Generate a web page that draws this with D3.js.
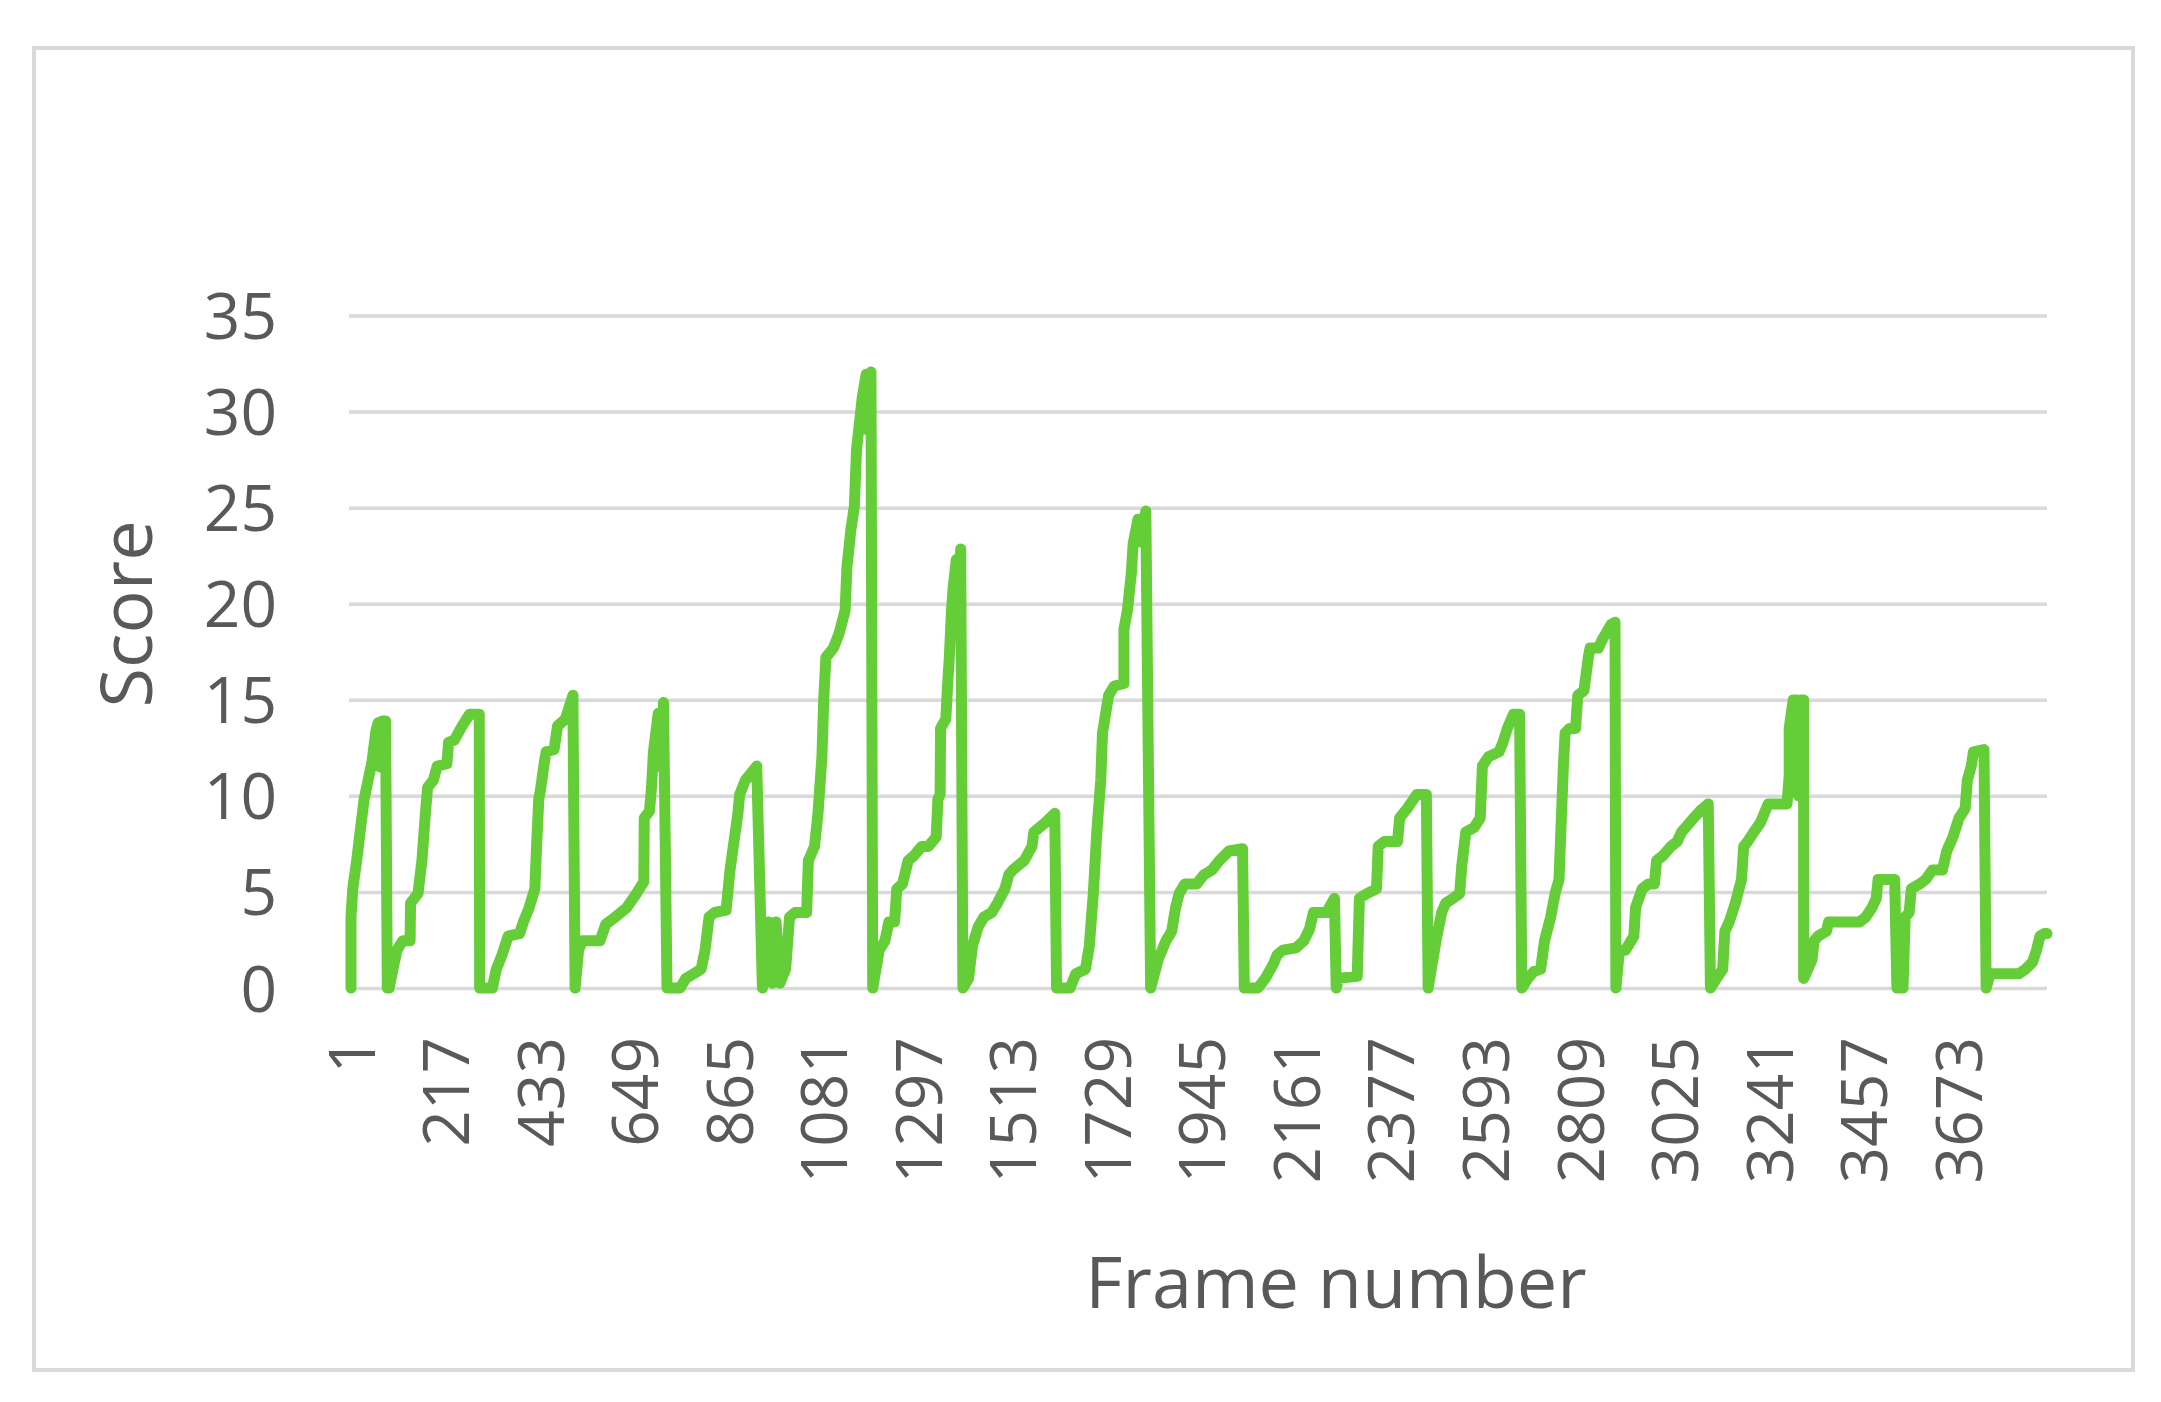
<!DOCTYPE html>
<html><head><meta charset="utf-8">
<script src="https://cdn.jsdelivr.net/npm/d3@7"></script>
<style>
html,body{margin:0;padding:0;background:#fff;}
svg{display:block;}
</style>
</head><body><div id="chart"></div>
<script>
// ---- data ----
const frames = [
1,1,5,14,23,31,40,49,58,63,67,72,80,84,
88,97,106,119,136,137,154,163,171,176,189,198,220,224,237,255,272,294,295,
324,333,346,360,386,395,408,421,425,430,434,443,447,465,473,491,508,513,
521,530,570,583,605,631,653,670,671,683,688,692,703,709,715,723,
753,766,784,801,810,819,832,858,867,876,885,889,902,928,941,
955,963,972,981,994,1003,1016,1042,1046,1060,1068,1077,1081,1086,1103,1116,1130,1134,1143,1151,1156,1169,1178,1183,1189,1193,
1208,1221,1230,1243,1248,1261,1274,1287,1305,1320,1338,1342,1347,1348,1360,1364,1368,1373,1377,1384,1388,1394,1399,
1412,1421,1434,1447,1465,1478,1495,1504,1513,1526,1539,1557,1561,1587,1609,1613,
1644,1657,1679,1688,1697,1705,1714,1718,1732,1745,1767,1767,1775,1784,1788,1799,1806,1817,1828,
1845,1863,1876,1885,1893,1906,1933,1950,1968,1985,2007,2038,2042,
2073,2090,2108,2117,2130,2160,2178,2191,2200,2230,2248,2252,2257,2300,2305,2322,2344,2348,2362,2392,2397,2414,2436,2458,2462,
2480,2493,2502,2519,2534,2539,2548,2567,2581,2586,2600,2624,2633,2643,2657,2671,2676,
2690,2704,2719,2728,2742,2752,2761,2766,2771,2775,2785,2799,2804,2818,2828,2832,2851,2861,2880,2889,2891,
2899,2913,2932,2936,2951,2965,2979,2984,2998,3017,3031,3041,3050,3069,3083,3102,3107,
3121,3135,3140,3150,3164,3178,3183,3192,3206,3221,3239,3282,3287,3287,3296,3304,3308,3312,3320,3320,
3325,3339,3344,3353,3372,3377,3448,3462,3476,3486,3490,3528,3533,
3547,3552,3561,3566,3585,3599,3614,3637,3647,3661,3675,3689,3694,3703,3708,3732,3737,
3746,3812,3827,3843,3852,3860,3870,3876
];
const scores = [
0,3.69,5.16,6.63,8.35,9.83,10.81,11.79,13.39,13.8,11.5,13.9,13.9,0,
0,0.98,1.97,2.46,2.46,4.42,4.91,6.63,9.09,10.44,10.81,11.55,11.67,12.78,12.9,13.64,14.25,14.25,0,
0,0.98,1.72,2.7,2.83,3.44,4.18,5.16,7.37,9.83,10.32,11.79,12.29,12.41,13.64,14.0,15.23,0,
1.97,2.46,2.46,3.32,3.69,4.18,4.91,5.53,8.85,9.21,10.57,12.29,14.3,11.5,14.86,0,
0,0.5,0.74,0.98,1.97,3.69,3.93,4.05,6.14,7.62,9.09,10.07,10.81,11.55,0,
3.44,0.25,3.44,0.25,0.98,3.69,3.93,3.93,6.63,7.37,9.09,12.04,14.99,17.2,17.69,18.43,19.66,21.87,23.83,25.06,28.01,30.71,31.94,29.0,32.06,0,
1.97,2.46,3.44,3.44,5.16,5.41,6.63,6.88,7.37,7.37,7.86,9.83,10.07,13.51,14.0,15.72,17.2,19.66,20.88,22.3,18.5,22.85,0,
0.5,2.21,3.19,3.69,3.93,4.42,5.16,5.9,6.14,6.39,6.63,7.37,8.11,8.6,9.09,0,
0,0.74,0.98,2.21,4.91,8.11,10.81,13.27,15.23,15.72,15.85,18.67,19.66,21.62,23.1,24.4,23.2,24.82,0,
1.47,2.46,2.95,4.18,4.91,5.41,5.41,5.9,6.14,6.63,7.13,7.25,0,
0,0.5,1.23,1.72,1.97,2.09,2.46,3.07,3.93,3.93,4.67,0,0.5,0.61,4.67,4.91,5.16,7.37,7.62,7.62,8.85,9.34,10.07,10.07,0,
2.46,3.93,4.42,4.67,4.91,6.39,8.11,8.35,8.85,11.55,12.04,12.29,12.78,13.51,14.25,14.25,0,
0.5,0.86,0.98,2.46,3.69,4.91,5.65,8.6,11.55,13.27,13.51,13.51,15.23,15.48,17.2,17.69,17.69,18.18,18.92,19.04,0,
1.97,1.97,2.7,4.18,5.16,5.41,5.41,6.63,6.88,7.37,7.62,8.11,8.35,8.85,9.21,9.58,0,
0.5,0.98,2.95,3.44,4.42,5.65,7.37,7.62,8.11,8.6,9.58,9.58,11.06,13.51,14.99,14.99,10.0,14.99,14.99,0.5,
0.74,1.47,2.46,2.7,2.95,3.44,3.44,3.69,4.18,4.67,5.65,5.65,0,
0,3.69,3.93,5.16,5.41,5.65,6.14,6.14,7.13,7.86,8.85,9.34,10.81,11.55,12.29,12.41,0,
0.74,0.74,0.98,1.35,1.97,2.7,2.83,2.83
];
const yTicks = [0, 5, 10, 15, 20, 25, 30, 35];
const xTickFrames = [1, 217, 433, 649, 865, 1081, 1297, 1513, 1729, 1945, 2161, 2377, 2593, 2809, 3025, 3241, 3457, 3673];
const xTitle = "Frame number";
const yTitle = "Score";
const lastFrame = 3876;

// ---- drawing ----
const W = 2161, H = 1402;
const plotL = 349, plotR = 2047, plotT = 315.5, plotB = 988;
const textColor = "#595959", gridColor = "#d9d9d9", lineColor = "#64cd37";
const font = "'Open Sans', sans-serif";

const svg = d3.select("#chart").append("svg")
  .attr("width", W).attr("height", H)
  .attr("viewBox", `0 0 ${W} ${H}`);

svg.append("rect").attr("x", 0).attr("y", 0).attr("width", W).attr("height", H).attr("fill", "#fff");
svg.append("rect").attr("x", 34).attr("y", 48).attr("width", 2099).attr("height", 1322)
  .attr("fill", "none").attr("stroke", gridColor).attr("stroke-width", 4);

const x = d3.scaleLinear().domain([1, lastFrame]).range([351, plotR]);
const y = d3.scaleLinear().domain([0, 35]).range([plotB, plotT]);

// y axis + gridlines
const yAxis = svg.append("g").attr("transform", `translate(${plotL},0)`)
  .call(d3.axisLeft(y).tickValues(yTicks).tickSize(-(plotR - plotL)).tickPadding(72).tickFormat(d3.format("d")));
yAxis.select(".domain").remove();
yAxis.selectAll(".tick line").attr("stroke", gridColor).attr("stroke-width", 3.5);
yAxis.selectAll(".tick text").attr("fill", textColor).attr("font-size", 64).attr("font-family", font).attr("dy", "0.36em");

// x axis labels
const xAxis = svg.append("g").attr("transform", `translate(0,${plotB})`)
  .call(d3.axisBottom(x).tickValues(xTickFrames).tickSize(0).tickFormat(d3.format("d")));
xAxis.select(".domain").remove();
xAxis.selectAll(".tick text")
  .attr("fill", textColor).attr("font-size", 64).attr("font-family", font)
  .attr("transform", "rotate(-90)")
  .attr("x", -49).attr("y", 0).attr("dy", "0.36em")
  .style("text-anchor", "end");

// line
const pts = frames.map((f, i) => [f, scores[i]]);
const line = d3.line().x(d => x(d[0])).y(d => y(d[1]));
svg.append("path").datum(pts)
  .attr("d", line)
  .attr("fill", "none").attr("stroke", lineColor).attr("stroke-width", 11)
  .attr("stroke-linejoin", "round").attr("stroke-linecap", "round");

// titles
svg.append("text").attr("x", 1336).attr("y", 1308)
  .attr("text-anchor", "middle").attr("font-size", 72).attr("font-family", font).attr("fill", textColor)
  .text(xTitle);
svg.append("text").attr("transform", "translate(152,614) rotate(-90)")
  .attr("text-anchor", "middle").attr("font-size", 72).attr("font-family", font).attr("fill", textColor)
  .text(yTitle);
</script>
</body></html>
